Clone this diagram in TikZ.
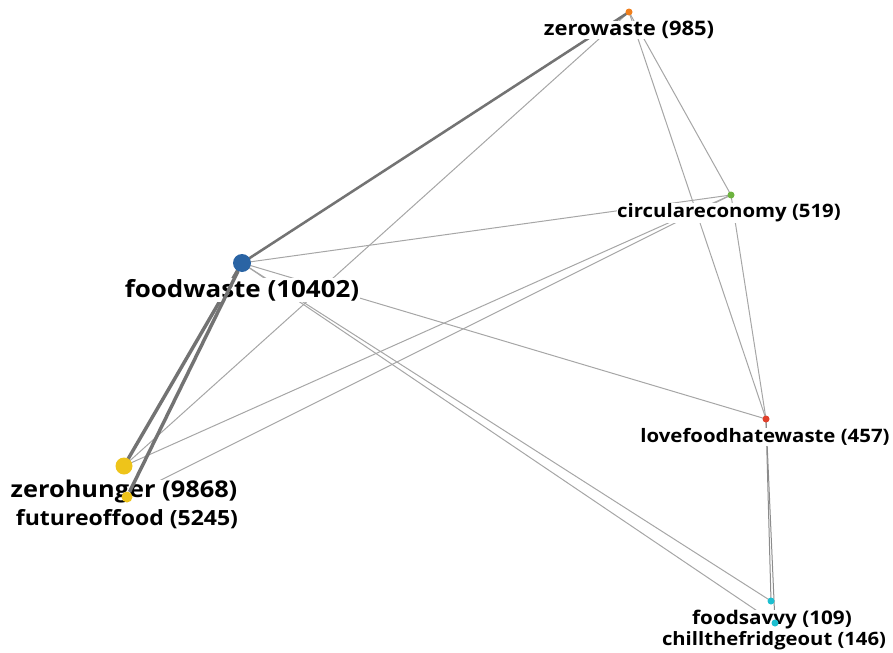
\documentclass[tikz,border=0pt]{standalone}
\usepackage{fontspec}
\setmainfont{Open Sans}[FakeStretch=1.1]
\definecolor{cblue}{HTML}{2A64A4}
\definecolor{cyel}{HTML}{EEC41A}
\definecolor{corange}{HTML}{F07F1D}
\definecolor{cgreen}{HTML}{6DB33F}
\definecolor{cred}{HTML}{E0402B}
\definecolor{ccyan}{HTML}{1DBFD0}
\tikzset{
  dot/.style={circle,inner sep=0pt,minimum size=#1},
  lab/.style={font=\bfseries\fontsize{#1}{#1}\selectfont,fill=white,inner sep=0.5pt,text=black},
  thin/.style={draw=black!35,line width=0.75pt},
  thick/.style={draw=black!55,line width=1.9pt},
  thicker/.style={draw=black!55,line width=2.6pt},
}
\begin{document}
\begin{tikzpicture}[x=0.75pt,y=-0.75pt]
\useasboundingbox (0,0) rectangle (893,653);
\coordinate (zw) at (629,12);
\coordinate (ce) at (731,195);
\coordinate (fw) at (242,263);
\coordinate (lf) at (766,419);
\coordinate (zh) at (124,466);
\coordinate (ff) at (127,497);
\coordinate (fs) at (771,601);
\coordinate (cf) at (775,623);
% thin edges
\draw[thin] (fw) -- (ce);
\draw[thin] (fw) -- (lf);
\draw[thin] (fw) -- (fs);
\draw[thin] (fw) -- (cf);
\draw[thin] (zw) -- (zh);
\draw[thin] (zw) -- (ce);
\draw[thin] (zw) -- (lf);
\draw[thin] (ce) -- (zh);
\draw[thin] (ce) -- (ff);
\draw[thin] (ce) -- (lf);
\draw[thin,draw=black!45] (lf) -- (fs);
\draw[thin,draw=black!45] (lf) -- (cf);
\draw[thick] (fw) -- (zw);
\draw[thicker] (fw) -- (zh);
% labels
\node[lab=15] (zwl) at (629,30) {zerowaste (985)};
\node[lab=13.9] (cel) at (729,213) {circulareconomy (519)};
\node[lab=17.7] (fwl) at (242,290) {foodwaste (10402)};
\node[lab=13.9] (lfl) at (765,437) {lovefoodhatewaste (457)};
\node[lab=17.3] (zhl) at (124,492) {zerohunger (9868)};
\node[lab=15.7] (ffl) at (127,519) {futureoffood (5245)};
\node[lab=14.1] (fsl) at (772,620) {foodsavvy (109)};
\node[lab=13.8] (cfl) at (774,641) {chillthefridgeout (146)};
% nodes
\node[dot=18*0.75pt,fill=cblue] (fwn) at (fw) {};
\node[dot=17*0.75pt,fill=cyel] (zhn) at (zh) {};
\node[dot=11*0.75pt,fill=cyel] (ffn) at (ff) {};
\node[dot=7*0.75pt,fill=corange] (zwn) at (zw) {};
\node[dot=7*0.75pt,fill=cgreen] (cen) at (ce) {};
\node[dot=7*0.75pt,fill=cred] (lfn) at (lf) {};
\node[dot=7*0.75pt,fill=ccyan] (fsn) at (fs) {};
\node[dot=7*0.75pt,fill=ccyan] (cfn) at (cf) {};
\draw[thicker] (fwn) -- (ffn);
\end{tikzpicture}
\end{document}
